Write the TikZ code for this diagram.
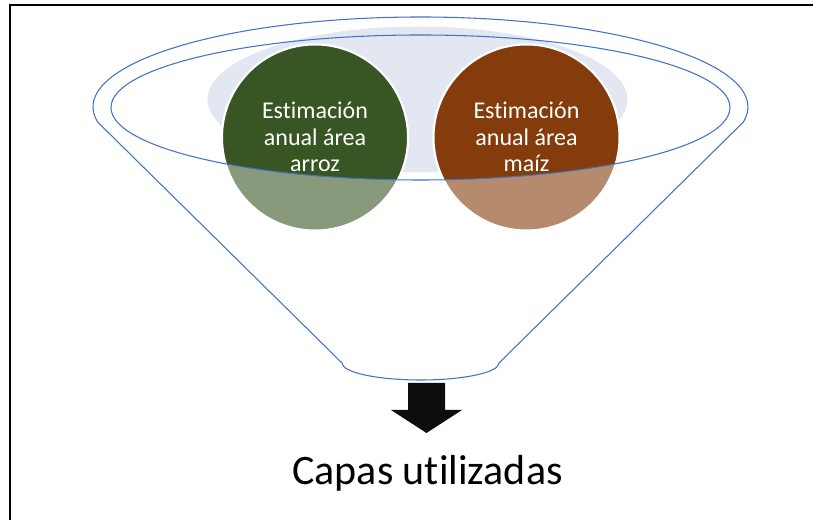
\documentclass[tikz,border=0pt]{standalone}
\usepackage{fontspec}
\setmainfont{Carlito}[Ligatures=NoCommon]
\definecolor{verdearroz}{RGB}{56,86,35}
\definecolor{cafemaiz}{RGB}{132,60,12}
\definecolor{lila}{RGB}{227,231,242}
\definecolor{azulborde}{RGB}{68,114,196}
\tikzset{
  borde/.style={draw=azulborde, line width=.8pt},
  lbl/.style={text=white, align=center, font=\fontsize{18}{20}\selectfont}
}
\begin{document}
\begin{tikzpicture}[x=.75pt, y=.75pt]
    \useasboundingbox (0,0) rectangle (813,520);
    \draw[line width=1.5pt] (10,0) -- (10,515) -- (813,515);

    \fill[lila] (417.5,420.5) ellipse (210 and 73);

    \foreach \x/\c in {315/verdearroz,526.5/cafemaiz}
    \filldraw[fill=\c!60!white, draw=white, line width=1.5pt] (\x,382.5) circle (93);
    \begin{scope}
      \clip (420.5,412.5) ellipse (309.5 and 72.5);
      \foreach \x/\c in {315/verdearroz,526.5/cafemaiz}
      \filldraw[fill=\c, draw=white, line width=1.5pt] (\x,382.5) circle (93);
    \end{scope}

    \draw[borde] (420.5,412.5) ellipse (309.5 and 72.5);
    \draw[borde] (97.6,398) arc[start angle=189.6, end angle=-9.6, x radius=327.5, y radius=90]
      -- (499,157) arc[start angle=0, end angle=-180, x radius=78.5, y radius=17] -- cycle;

    \node[lbl] (arroz) at (315,383) {Estimación\\anual área\\arroz};
    \node[lbl] (maiz) at (526.5,383) {Estimación\\anual área\\maíz};

    \fill[black!95] (408,137) -- (445,137) -- (445,110) -- (462,110) -- (426.5,87)
      -- (391,110) -- (408,110) -- cycle;
    \node[anchor=base, font=\fontsize{31.5}{36}\selectfont] (capas) at (427.5,35) {Capas utilizadas};

  \end{tikzpicture}
\end{document}
